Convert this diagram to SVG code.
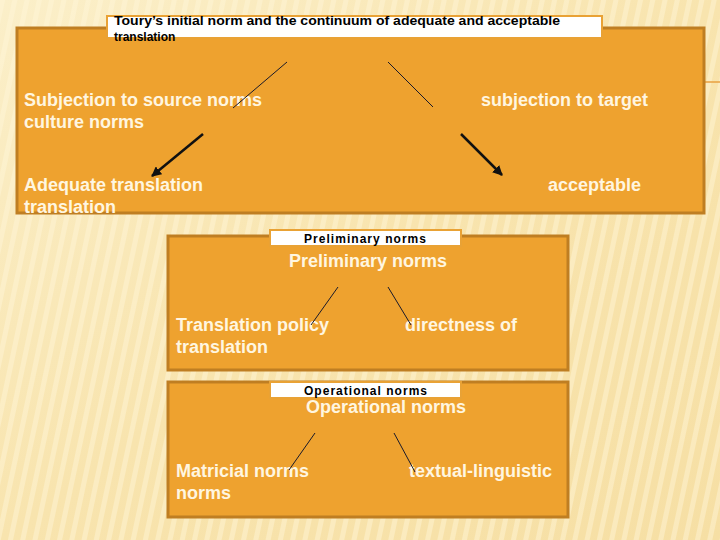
<svg xmlns="http://www.w3.org/2000/svg" width="720" height="540" viewBox="0 0 720 540">
<defs>
<linearGradient id="bg" x1="0" y1="0" x2="1" y2="1">
<stop offset="0" stop-color="#FBEFC9"/>
<stop offset="0.5" stop-color="#F8E4AE"/>
<stop offset="1" stop-color="#F6DFA4"/>
</linearGradient>
<pattern id="stripes" width="12" height="12" patternUnits="userSpaceOnUse" patternTransform="rotate(12)">
<rect width="5" height="12" fill="#FFF6DA" opacity="0.45"/>
</pattern>
<marker id="arr" viewBox="0 0 10 10" refX="9" refY="5" markerWidth="4" markerHeight="4" orient="auto">
<path d="M0,0 L10,5 L0,10 z" fill="#111"/>
</marker>
<style>
.box{fill:#EEA22F;stroke:#BF7E22;stroke-width:3}
.tbox{fill:#FFFFFF;stroke:#E9A235;stroke-width:2}
.t{font-family:"Liberation Sans",Arial,sans-serif;font-weight:bold;font-size:18px;fill:#FFF6E0}
.s{font-family:"Liberation Sans",Arial,sans-serif;font-weight:bold;font-size:12px;fill:#000}
.thin{stroke:#1a1a2a;stroke-width:1;fill:none}
.thick{stroke:#111;stroke-width:2.5;fill:none;marker-end:url(#arr)}
</style>
</defs>
<rect width="720" height="540" fill="url(#bg)"/>
<rect width="720" height="540" fill="url(#stripes)"/>
<line x1="705" y1="82" x2="720" y2="82" stroke="#E8A040" stroke-width="1.5"/>

<g id="node-initial">
<rect class="box" x="17" y="28" width="687" height="185"/>
<rect class="tbox" x="107" y="16" width="495" height="22"/>
<text class="s" x="114" y="25" textLength="446" lengthAdjust="spacingAndGlyphs">Toury’s initial norm and the continuum of adequate and acceptable</text>
<text class="s" x="114" y="41">translation</text>
<text class="t" x="24" y="106">Subjection to source norms</text>
<text class="t" x="24" y="128">culture norms</text>
<text class="t" x="481" y="106">subjection to target</text>
<text class="t" x="24" y="191">Adequate translation</text>
<text class="t" x="24" y="213">translation</text>
<text class="t" x="548" y="191">acceptable</text>
</g>

<g id="node-preliminary">
<rect class="box" x="168" y="236" width="400" height="134"/>
<rect class="tbox" x="270" y="230" width="191" height="16"/>
<text class="s" x="304" y="243" textLength="122" lengthAdjust="spacing">Preliminary norms</text>
<text class="t" x="289" y="267">Preliminary norms</text>
<text class="t" x="176" y="331">Translation policy</text>
<text class="t" x="176" y="353">translation</text>
<text class="t" x="405" y="331">directness of</text>
</g>

<g id="node-operational">
<rect class="box" x="168" y="382" width="400" height="135"/>
<rect class="tbox" x="270" y="382" width="191" height="16"/>
<text class="s" x="304" y="395" textLength="123" lengthAdjust="spacing">Operational norms</text>
<text class="t" x="306" y="413">Operational norms</text>
<text class="t" x="176" y="477">Matricial norms</text>
<text class="t" x="176" y="499">norms</text>
<text class="t" x="409" y="477">textual-linguistic</text>
</g>

<g id="connectors">
<line class="thin" x1="287" y1="62" x2="233" y2="108"/>
<line class="thin" x1="388" y1="62" x2="433" y2="107"/>
<line class="thick" x1="203" y1="134" x2="152" y2="176"/>
<line class="thick" x1="461" y1="134" x2="502" y2="175"/>
<line class="thin" x1="338" y1="287" x2="311" y2="325"/>
<line class="thin" x1="388" y1="287" x2="411" y2="325"/>
<line class="thin" x1="315" y1="433" x2="289" y2="470"/>
<line class="thin" x1="394" y1="433" x2="415" y2="472"/>
</g>
</svg>
